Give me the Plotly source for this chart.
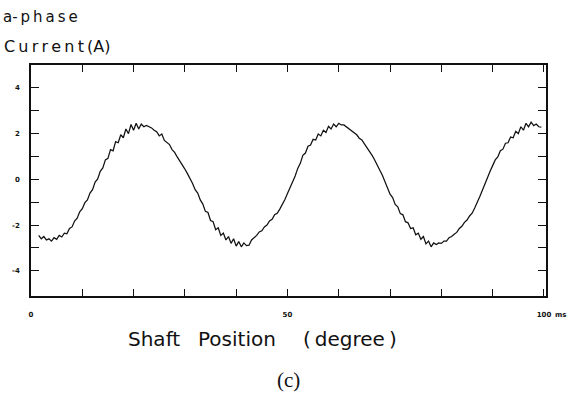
import plotly.graph_objects as go

# a-phase current trace, sampled every 0.5 ms from 1.5 ms
t_first_ms = 1.5
t_step_ms = 0.5
current_a = [
    -2.45, -2.6, -2.5, -2.65, -2.6, -2.7, -2.55, -2.62, -2.45, -2.52,
    -2.35, -2.38, -2.15, -2.08, -1.82, -1.7, -1.42, -1.28, -1.02, -0.9,
    -0.6, -0.45, -0.12, 0.02, 0.35, 0.5, 0.85, 0.92, 1.3, 1.25,
    1.65, 1.6, 1.95, 1.82, 2.2, 2.0, 2.4, 2.15, 2.45, 2.2,
    2.42, 2.3, 2.36, 2.3, 2.25, 2.15, 2.08, 1.9, 1.98, 1.7,
    1.62, 1.52, 1.3, 1.18, 0.98, 0.82, 0.62, 0.45, 0.25, 0.05,
    -0.18, -0.45, -0.6, -0.9, -1.08, -1.4, -1.45, -1.8, -1.85, -2.2,
    -2.12, -2.45, -2.35, -2.65, -2.5, -2.8, -2.6, -2.92, -2.72, -2.95,
    -2.78, -2.9, -2.88, -2.65, -2.55, -2.45, -2.3, -2.25, -2.08, -2.0,
    -1.82, -1.75, -1.55, -1.48, -1.3, -1.1, -0.88, -0.62, -0.38, -0.1,
    0.15, 0.48, 0.7, 1.05, 1.15, 1.45, 1.5, 1.75, 1.72, 1.98,
    1.9, 2.15, 2.05, 2.32, 2.2, 2.42, 2.3, 2.45, 2.38, 2.38,
    2.3, 2.22, 2.12, 2.02, 1.95, 1.8, 1.72, 1.55, 1.4, 1.2,
    1.05, 0.85, 0.65, 0.4, 0.18, -0.1, -0.38, -0.65, -0.8, -1.1,
    -1.2, -1.5, -1.55, -1.85, -1.9, -2.15, -2.12, -2.42, -2.35, -2.62,
    -2.5, -2.82, -2.7, -2.95, -2.78, -2.85, -2.78, -2.8, -2.7, -2.7,
    -2.55, -2.5, -2.4, -2.32, -2.15, -2.05, -1.88, -1.78, -1.6, -1.48,
    -1.25, -1.02, -0.75, -0.48, -0.18, 0.1, 0.35, 0.6, 0.85, 0.98,
    1.25, 1.32, 1.58, 1.6, 1.85, 1.82, 2.1, 2.0, 2.3, 2.15,
    2.45, 2.3, 2.5, 2.35, 2.42, 2.3, 2.28,
]

x_tick_vals = [0, 10, 20, 30, 40, 50, 60, 70, 80, 90, 100]
x_tick_text = ["0", "", "", "", "", "50", "", "", "", "", "100"]
y_tick_vals = [-4, -3, -2, -1, 0, 1, 2, 3, 4]
y_tick_text = ["-4", "", "-2", "", "0", "", "2", "", "4"]

W, H = 570, 397
PLOT_L, PLOT_R, PLOT_T, PLOT_B = 27, 546, 65, 296


def px(x):
    return (x - PLOT_L) / (PLOT_R - PLOT_L)


def py(y):
    return (PLOT_B - y) / (PLOT_B - PLOT_T)


INK = "#111111"
SANS = "DejaVu Sans"
TS = "\u2009"  # thin space used for the plotter-style lettering

fig = go.Figure()
fig.add_trace(
    go.Scatter(
        y=current_a,
        x0=t_first_ms,
        dx=t_step_ms,
        mode="lines",
        line=dict(color=INK, width=1.25),
        showlegend=False,
        hoverinfo="skip",
    )
)

axis_common = dict(
    showgrid=False,
    zeroline=False,
    showline=True,
    linecolor=INK,
    linewidth=1.5,
    mirror="ticks",
    ticks="inside",
    tickcolor=INK,
    tickwidth=1.2,
    tickfont=dict(family=SANS, size=7, color=INK, weight="bold"),
)

fig.update_xaxes(
    range=[0, 100.4],
    tickvals=x_tick_vals,
    ticktext=x_tick_text,
    ticklen=7,
    ticklabelstandoff=11,
    **axis_common,
)
fig.update_yaxes(
    range=[-5.1, 5.0],
    tickvals=y_tick_vals,
    ticktext=y_tick_text,
    ticklen=8,
    ticklabelstandoff=8,
    **axis_common,
)

annotations = [
    dict(text="a-" + TS + TS.join("phase"), x=px(-3), y=py(17),
         xanchor="left", yanchor="middle", font=dict(family=SANS, size=15, color=INK)),
    dict(text=TS.join("Current") + TS + "(A)", x=px(-2), y=py(47),
         xanchor="left", yanchor="middle", font=dict(family=SANS, size=16, color=INK)),
    dict(text="ms", x=px(553), y=py(315),
         xanchor="left", yanchor="middle", font=dict(family=SANS, size=7, color=INK, weight="bold")),
    dict(text="Shaft", x=px(123), y=py(339),
         xanchor="left", yanchor="middle", font=dict(family=SANS, size=20, color=INK)),
    dict(text="Position", x=px(193), y=py(339),
         xanchor="left", yanchor="middle", font=dict(family=SANS, size=20, color=INK)),
    dict(text="(" + TS + "degree" + TS + ")", x=px(299), y=py(339),
         xanchor="left", yanchor="middle", font=dict(family=SANS, size=20, color=INK)),
    dict(text="(c)", x=px(286), y=py(380),
         xanchor="center", yanchor="middle", font=dict(family="Liberation Serif", size=21, color=INK)),
]
for a in annotations:
    a.update(xref="paper", yref="paper", showarrow=False)

fig.update_layout(
    width=W,
    height=H,
    autosize=False,
    margin=dict(l=PLOT_L, r=W - PLOT_R, t=PLOT_T, b=H - PLOT_B, pad=0),
    paper_bgcolor="white",
    plot_bgcolor="white",
    annotations=annotations,
)

fig.write_html("out.html")
